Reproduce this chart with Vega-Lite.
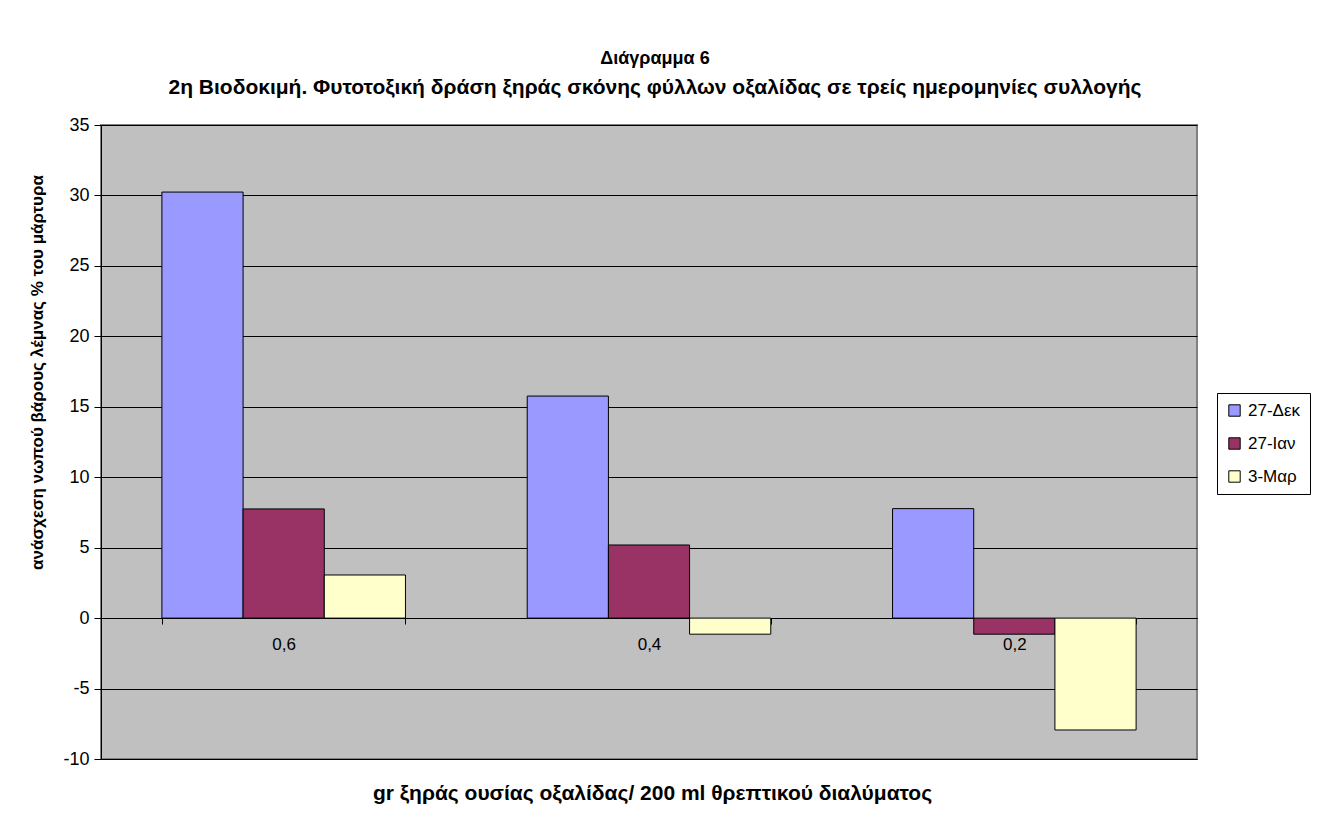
{
  "$schema": "https://vega.github.io/schema/vega-lite/v6.json",
  "autosize": "none",
  "width": 1096,
  "height": 634,
  "padding": {"left": 101, "top": 125, "right": 124, "bottom": 74},
  "background": "white",
  "title": {
    "text": "Διάγραμμα 6",
    "subtitle": "2η Βιοδοκιμή. Φυτοτοξική δράση ξηράς σκόνης φύλλων οξαλίδας σε τρείς ημερομηνίες συλλογής",
    "font": "Liberation Sans",
    "fontSize": 18,
    "fontWeight": "bold",
    "color": "black",
    "subtitleFont": "Liberation Sans",
    "subtitleFontSize": 21,
    "subtitleFontWeight": "bold",
    "subtitleColor": "black",
    "subtitlePadding": 9,
    "anchor": "middle",
    "dx": 6,
    "offset": 18
  },
  "data": {
    "values": [
      {"dose": "0,6", "series": "27-Δεκ", "value": 30.24},
      {"dose": "0,6", "series": "27-Ιαν", "value": 7.75},
      {"dose": "0,6", "series": "3-Μαρ", "value": 3.06},
      {"dose": "0,4", "series": "27-Δεκ", "value": 15.76},
      {"dose": "0,4", "series": "27-Ιαν", "value": 5.19},
      {"dose": "0,4", "series": "3-Μαρ", "value": -1.14},
      {"dose": "0,2", "series": "27-Δεκ", "value": 7.77},
      {"dose": "0,2", "series": "27-Ιαν", "value": -1.14},
      {"dose": "0,2", "series": "3-Μαρ", "value": -7.94}
    ]
  },
  "mark": {"type": "bar", "stroke": "black", "strokeWidth": 1},
  "encoding": {
    "x": {
      "field": "dose",
      "type": "nominal",
      "sort": ["0,6", "0,4", "0,2"],
      "scale": {"paddingInner": 0.3333, "paddingOuter": 0.1667},
      "axis": {
        "title": "gr ξηράς ουσίας οξαλίδας/ 200 ml θρεπτικού διαλύματος",
        "titleFont": "Liberation Sans",
        "titleFontSize": 21,
        "titleFontWeight": "bold",
        "titleColor": "black",
        "titlePadding": 130,
        "titleX": 551,
        "labelAngle": 0,
        "labelFont": "Liberation Sans",
        "labelFontSize": 17,
        "labelColor": "black",
        "labelPadding": 12,
        "offset": -141,
        "tickBand": "extent",
        "tickColor": "black",
        "tickSize": 6,
        "domainColor": "black",
        "grid": false
      }
    },
    "xOffset": {
      "field": "series",
      "type": "nominal",
      "sort": ["27-Δεκ", "27-Ιαν", "3-Μαρ"],
      "scale": {"paddingInner": 0, "paddingOuter": 0}
    },
    "y": {
      "field": "value",
      "type": "quantitative",
      "scale": {"domain": [-10, 35], "nice": false, "zero": false},
      "axis": {
        "title": "ανάσχεση νωπού βάρους λέμνας % του μάρτυρα",
        "titleFont": "Liberation Sans",
        "titleFontSize": 17,
        "titleFontWeight": "bold",
        "titleColor": "black",
        "titlePadding": 16,
        "titleY": 247,
        "values": [-10, -5, 0, 5, 10, 15, 20, 25, 30, 35],
        "labelExpr": "datum.value < 0 ? '-' + abs(datum.value) : '' + datum.value",
        "labelFont": "Liberation Sans",
        "labelFontSize": 18,
        "labelColor": "black",
        "labelPadding": 5,
        "tickColor": "black",
        "tickSize": 7,
        "domainColor": "black",
        "grid": true,
        "gridColor": "black",
        "gridOpacity": 1,
        "gridWidth": 1
      }
    },
    "color": {
      "field": "series",
      "type": "nominal",
      "sort": ["27-Δεκ", "27-Ιαν", "3-Μαρ"],
      "scale": {"domain": ["27-Δεκ", "27-Ιαν", "3-Μαρ"], "range": ["#9999FF", "#993366", "#FFFFCC"]},
      "legend": {
        "title": null,
        "orient": "none",
        "legendX": 1116,
        "legendY": 268,
        "direction": "vertical",
        "symbolType": "square",
        "symbolSize": 130,
        "symbolStrokeColor": "black",
        "symbolStrokeWidth": 1,
        "symbolOpacity": 1,
        "labelFont": "Liberation Sans",
        "labelFontSize": 17,
        "labelColor": "black",
        "labelOffset": 5,
        "rowPadding": 15,
        "padding": 9,
        "strokeColor": "black",
        "fillColor": "white"
      }
    }
  },
  "config": {
    "view": {"fill": "#C0C0C0", "stroke": "#808080", "strokeWidth": 2}
  }
}
